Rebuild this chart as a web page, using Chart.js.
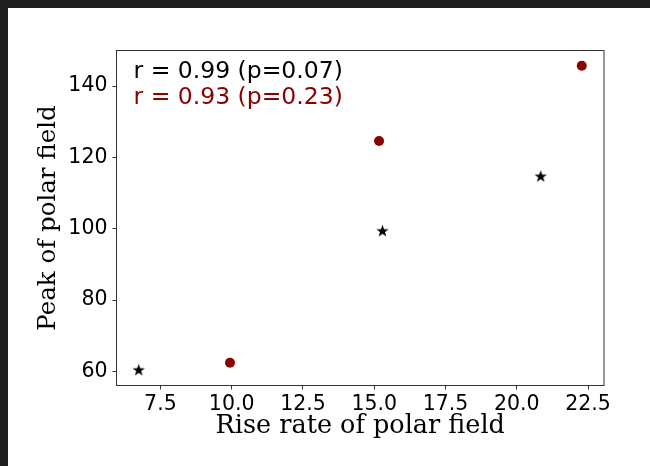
<!DOCTYPE html>
<html>
<head>
<meta charset="utf-8">
<script src="https://cdn.jsdelivr.net/npm/chart.js@4.4.1/dist/chart.umd.min.js"></script>
<style>
  html, body { margin: 0; padding: 0; background: #1f1f1f; width: 650px; height: 466px; overflow: hidden; }
  #wrap { position: absolute; left: 8px; top: 8px; width: 642px; height: 458px; background: #fff; }
</style>
</head>
<body>
<div id="wrap"><canvas id="myChart" width="642" height="458"></canvas></div>
<script>
// data
const starX = [6.74, 15.29, 20.84];
const starY = [60.3, 99.3, 114.6];
const dotX = [9.94, 15.17, 22.28];
const dotY = [62.4, 124.6, 145.7];
const xTicks = [7.5, 10, 12.5, 15, 17.5, 20, 22.5];
const yTicks = [60, 80, 100, 120, 140];
const notes = ["r = 0.99 (p=0.07)", "r = 0.93 (p=0.23)"];
const noteColors = ["#000000", "#8b0000"];

// filled five point star, like matplotlib's "*"
function starImage(r) {
  const c = document.createElement("canvas");
  const s = Math.ceil(r * 2) + 2;
  c.width = s;
  c.height = s;
  const g = c.getContext("2d");
  g.beginPath();
  for (let i = 0; i < 10; i++) {
    const rad = i % 2 ? r * 0.4 : r;
    const a = -Math.PI / 2 + i * Math.PI / 5;
    g.lineTo(s / 2 + rad * Math.cos(a), s / 2 + rad * Math.sin(a));
  }
  g.closePath();
  g.fillStyle = "#000";
  g.fill();
  return c;
}

const framePlugin = {
  id: "frame",
  afterDraw(chart) {
    const { ctx, chartArea: a } = chart;
    ctx.save();
    ctx.strokeStyle = "#333";
    ctx.lineWidth = 1;
    ctx.strokeRect(a.left, a.top, a.right - a.left, a.bottom - a.top);
    ctx.font = "23.5px 'DejaVu Sans'";
    ctx.textBaseline = "alphabetic";
    notes.forEach((t, i) => {
      ctx.fillStyle = noteColors[i];
      ctx.fillText(t, a.left + 17, a.top + 27 + i * 26);
    });
    ctx.restore();
  },
};

const ctx = document.getElementById("myChart").getContext("2d");
const myChart = new Chart(ctx, {
  type: "scatter",
  data: {
    datasets: [
      {
        label: "stars",
        data: starX.map((x, i) => ({ x: x, y: starY[i] })),
        pointStyle: starImage(6.5),
        pointRadius: 6,
      },
      {
        label: "dots",
        data: dotX.map((x, i) => ({ x: x, y: dotY[i] })),
        backgroundColor: "#8b0000",
        borderWidth: 0,
        pointRadius: 5,
      },
    ],
  },
  plugins: [framePlugin],
  options: {
    responsive: false,
    animation: false,
    layout: { padding: { top: 42.5, right: 46, left: 0, bottom: 0 } },
    plugins: { legend: { display: false }, tooltip: { enabled: false } },
    scales: {
      x: {
        type: "linear",
        min: 5.96,
        max: 23.06,
        afterBuildTicks: (s) => { s.ticks = xTicks.map((v) => ({ value: v })); },
        afterFit: (s) => { s.height = 80.5; },
        border: { display: false },
        grid: { drawOnChartArea: false, drawTicks: true, tickLength: 4, tickColor: "#333" },
        ticks: {
          color: "#000",
          padding: 3,
          font: { family: "'DejaVu Sans'", size: 20.5 },
          callback: (v) => v.toFixed(1),
        },
        title: {
          display: true,
          text: "Rise rate of polar field",
          color: "#000",
          font: { family: "'DejaVu Serif'", size: 25.5 },
          padding: { top: 0, bottom: 24 },
        },
      },
      y: {
        min: 56.03,
        max: 149.97,
        afterBuildTicks: (s) => { s.ticks = yTicks.map((v) => ({ value: v })); },
        afterFit: (s) => { s.width = 108.5; },
        border: { display: false },
        grid: { drawOnChartArea: false, drawTicks: true, tickLength: 4, tickColor: "#333" },
        ticks: {
          color: "#000",
          padding: 5,
          font: { family: "'DejaVu Sans'", size: 20.5 },
        },
        title: {
          display: true,
          text: "Peak of polar field",
          color: "#000",
          font: { family: "'DejaVu Serif'", size: 24.5 },
          padding: { top: 26, bottom: 0 },
        },
      },
    },
  },
});
</script>
</body>
</html>
